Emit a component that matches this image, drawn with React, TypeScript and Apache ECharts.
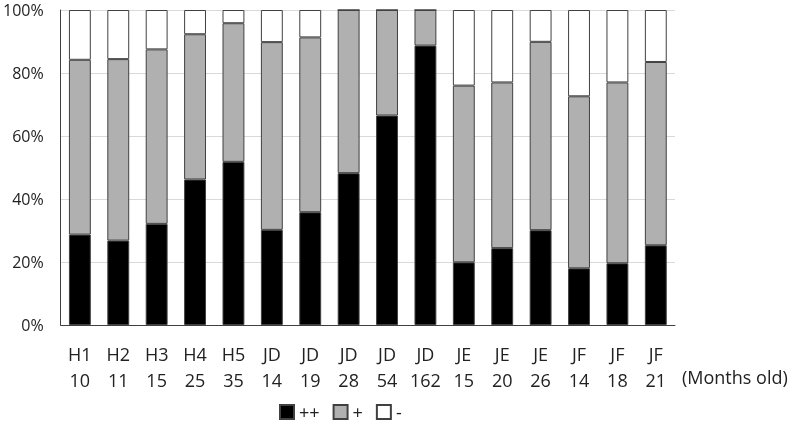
import React, { useEffect, useRef } from "react";
import * as echarts from "echarts";

const groups = ["H1", "H2", "H3", "H4", "H5", "JD", "JD", "JD", "JD", "JD", "JE", "JE", "JE", "JF", "JF", "JF"];
const ages = ["10", "11", "15", "25", "35", "14", "19", "28", "54", "162", "15", "20", "26", "14", "18", "21"];
// cumulative tops (%)
const plusPlus = [28.7, 26.8, 32.1, 46.2, 51.8, 30.2, 35.8, 48.2, 66.5, 88.7, 19.9, 24.4, 30.1, 18.0, 19.6, 25.3];
const plusTop = [84.2, 84.4, 87.5, 92.3, 95.8, 89.8, 91.3, 100, 100, 100, 76.0, 77.0, 89.9, 72.6, 77.0, 83.5];
const plus = plusTop.map((t, i) => +(t - plusPlus[i]).toFixed(1));
const minus = plusTop.map((t) => +(100 - t).toFixed(1));
const seriesNames = ["++", "+", "-"];
const yTicks = { min: 0, max: 100, interval: 20 };

const categories = groups.map((g, i) => g + "\n" + ages[i]);

export default function App() {
  const ref = useRef<HTMLDivElement>(null);
  useEffect(() => {
    if (!ref.current) return;
    const chart = echarts.init(ref.current, null, { renderer: "svg" });
    const font = "'Open Sans', 'Liberation Sans', sans-serif";
    const border = { borderColor: "#404040", borderWidth: 1 };
    chart.setOption({
      animation: false,
      textStyle: { fontFamily: font },
      grid: { left: 58, right: 118, top: 10, bottom: 101, containLabel: false },
      legend: {
        data: seriesNames,
        left: 279,
        top: 403,
        padding: 0,
        itemWidth: 14,
        itemHeight: 14,
        itemGap: 13,
        icon: "rect",
        textStyle: { fontSize: 18, lineHeight: 18, color: "#222", fontFamily: font },
      },
      xAxis: {
        type: "category",
        data: categories,
        axisLine: { lineStyle: { color: "#404040", width: 1 } },
        axisTick: { show: false },
        axisLabel: { fontSize: 18, lineHeight: 26, color: "#222", margin: 16, interval: 0, fontFamily: font },
      },
      yAxis: {
        type: "value",
        min: yTicks.min,
        max: yTicks.max,
        interval: yTicks.interval,
        axisLine: { show: true, lineStyle: { color: "#404040", width: 1 } },
        axisTick: { show: false },
        splitLine: { lineStyle: { color: "#d9d9d9", width: 1 } },
        axisLabel: { formatter: "{value}%", fontSize: 16, lineHeight: 16, color: "#222", margin: 17, fontFamily: font },
      },
      series: [
        { name: "++", type: "bar", stack: "s", data: plusPlus, barWidth: "57%", itemStyle: { color: "#000000", ...border } },
        { name: "+", type: "bar", stack: "s", data: plus, barWidth: "57%", itemStyle: { color: "#b0b0b0", ...border } },
        { name: "-", type: "bar", stack: "s", data: minus, barWidth: "57%", itemStyle: { color: "#ffffff", ...border } },
      ],
      graphic: [
        {
          type: "text",
          left: 682,
          top: 368,
          style: { text: "(Months old)", fontSize: 18, fill: "#222", fontFamily: font },
        },
      ],
    });
    return () => chart.dispose();
  }, []);
  return <div ref={ref} style={{ position: "fixed", left: 0, top: 0, width: 793, height: 426 }} />;
}
